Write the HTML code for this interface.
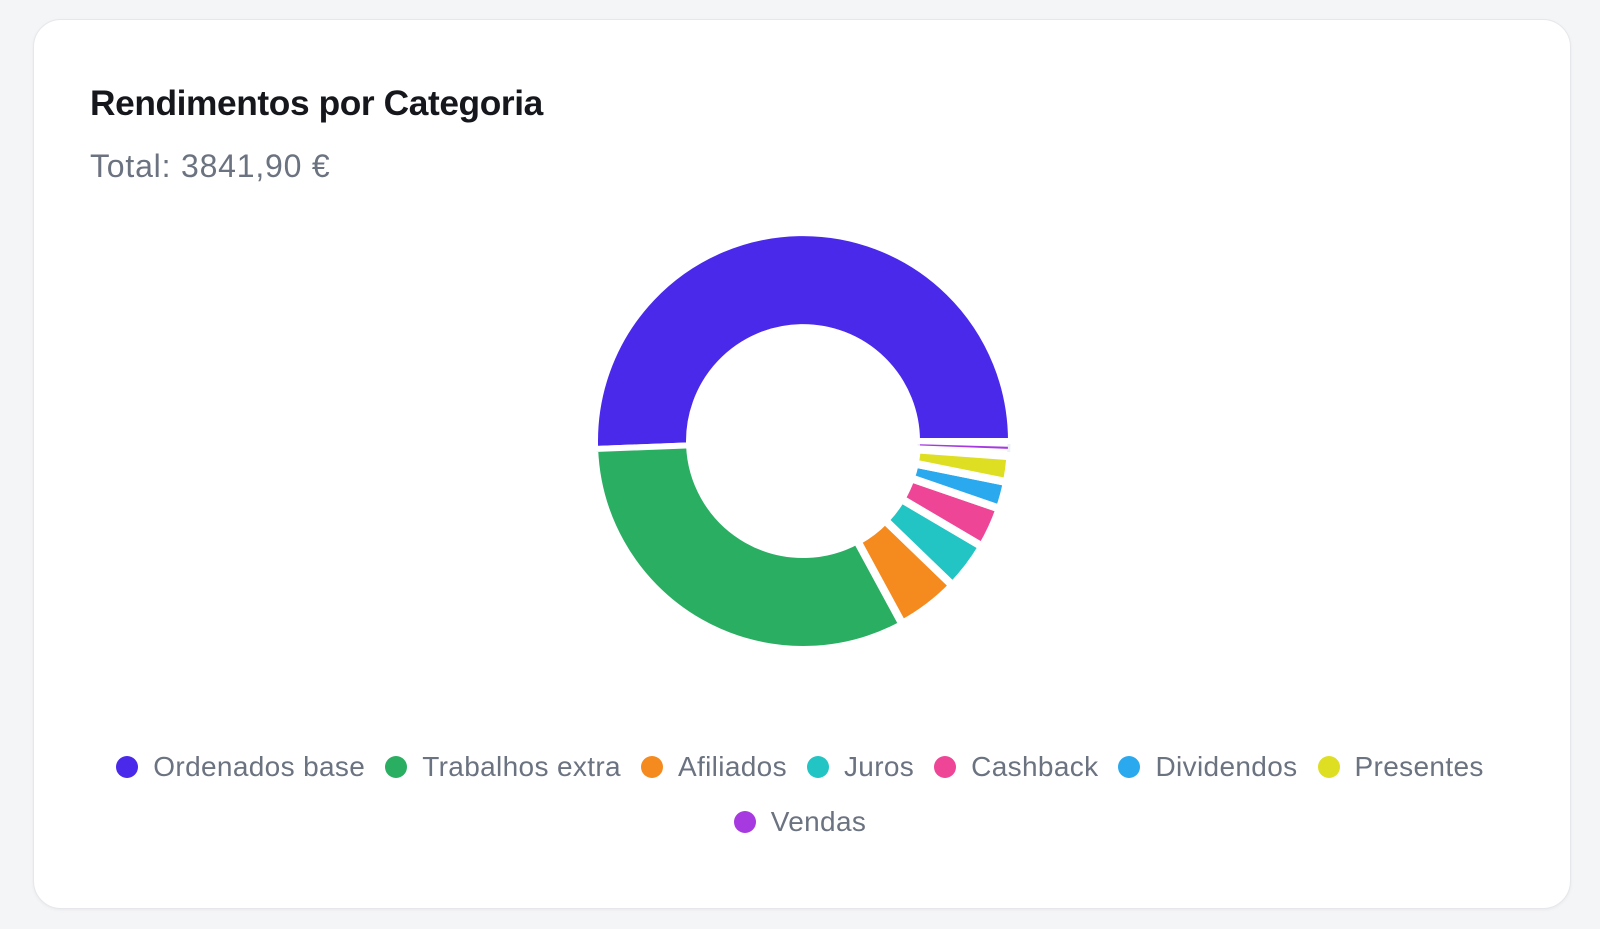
<!DOCTYPE html>
<html><head><meta charset="utf-8">
<style>
html,body{margin:0;padding:0;}
body{width:1600px;height:929px;background:#f4f5f7;position:relative;overflow:hidden;font-family:"Liberation Sans",sans-serif;}
.card{position:absolute;left:33px;top:19px;width:1538px;height:890px;background:#fff;border:1.5px solid #e6e7eb;border-radius:28px;box-sizing:border-box;box-shadow:0 1px 3px rgba(0,0,0,0.05);}
.title{position:absolute;left:90px;top:84px;font-size:35.3px;font-weight:bold;color:#15171c;letter-spacing:-0.4px;white-space:nowrap;}
.total{position:absolute;left:90px;top:148px;font-size:32px;letter-spacing:0.8px;color:#6b7280;white-space:nowrap;}
.row{position:absolute;left:0;width:1600px;display:flex;justify-content:center;align-items:center;font-size:28px;letter-spacing:0.35px;color:#6b7280;}
.it{display:flex;align-items:center;margin:0 10px;white-space:nowrap;}
.dot{width:22px;height:22px;border-radius:50%;margin-right:15px;}
svg{position:absolute;left:0;top:0;}
</style></head><body>
<div class="card"></div>
<div class="title">Rendimentos por Categoria</div>
<div class="total">Total: 3841,90 €</div>
<svg id="s" width="1600" height="929"></svg>
<div class="row" style="top:750px;height:34px;">
<div class="it"><span class="dot" style="background:#4a29ea"></span>Ordenados base</div>
<div class="it"><span class="dot" style="background:#2aae62"></span>Trabalhos extra</div>
<div class="it"><span class="dot" style="background:#f58a1f"></span>Afiliados</div>
<div class="it"><span class="dot" style="background:#22c4c4"></span>Juros</div>
<div class="it"><span class="dot" style="background:#ee4596"></span>Cashback</div>
<div class="it"><span class="dot" style="background:#2aa9ee"></span>Dividendos</div>
<div class="it"><span class="dot" style="background:#dede22"></span>Presentes</div>
</div>
<div class="row" style="top:805px;height:34px;">
<div class="it"><span class="dot" style="background:#a63ae0"></span>Vendas</div>
</div>
<script>
var cx=803,cy=441,R=208,r=114;
var segs=[[177.8,360,"#4a29ea",6],[61.5,177.8,"#2aae62",6],[44,61.5,"#f58a1f",8],[30.5,44,"#22c4c4",8],[19,30.5,"#ee4596",8],[11.4,19,"#2aa9ee",8],[4.2,11.4,"#dede22",8],[1.6,2.2,"#a63ae0",0]];
function p(rad,a){var t=a*Math.PI/180;return (cx+rad*Math.cos(t)).toFixed(2)+","+(cy+rad*Math.sin(t)).toFixed(2);}
var h='<circle cx="'+cx+'" cy="'+cy+'" r="206" fill="none" stroke="#eef0f5" stroke-width="3"/>';
h+='<circle cx="'+cx+'" cy="'+cy+'" r="116" fill="none" stroke="#eef0f5" stroke-width="3"/>';
segs.forEach(function(s){
 var a1=s[0],a2=s[1],lg=(a2-a1)>180?1:0,Ro=s[3]?R:205,ri=s[3]?r:117;
 var d="M"+p(Ro,a1)+" A"+Ro+","+Ro+" 0 "+lg+" 1 "+p(Ro,a2)+" L"+p(ri,a2)+" A"+ri+","+ri+" 0 "+lg+" 0 "+p(ri,a1)+" Z";
 h+='<path d="'+d+'" fill="'+s[2]+'"'+(s[3]?' stroke="#fff" stroke-width="'+s[3]+'" stroke-linejoin="miter"':'')+'/>';
});
document.getElementById("s").innerHTML=h;
</script>
</body></html>
